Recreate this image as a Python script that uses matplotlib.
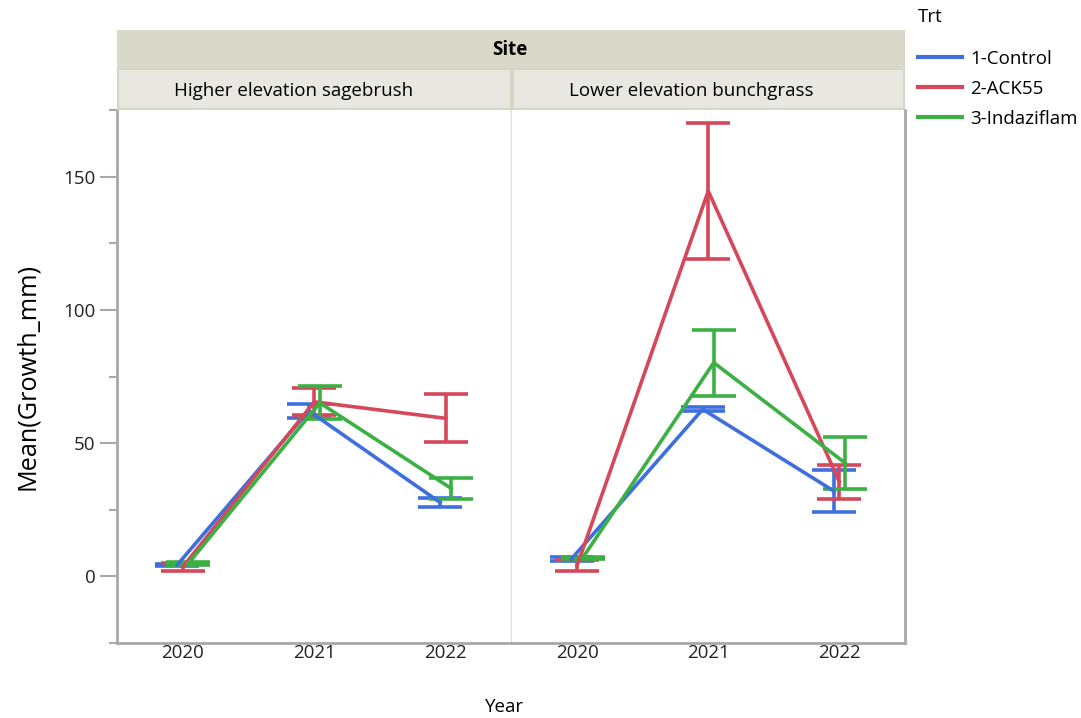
import matplotlib.pyplot as plt
import matplotlib.patches as mpatches
from matplotlib.ticker import MultipleLocator
import numpy as np

plt.rcParams['font.family'] = ['Open Sans', 'DejaVu Sans']

years = [2020, 2021, 2022]
sites = ['Higher elevation sagebrush', 'Lower elevation bunchgrass']
trts = ['1-Control', '2-ACK55', '3-Indaziflam']
colors = ['#3F6FDE', '#D5485A', '#3BB143']

# means and half-width of error bars
high_mean = {'1-Control': [4.3, 62.1, 27.7],
             '2-ACK55': [3.5, 65.5, 59.3],
             '3-Indaziflam': [4.8, 65.1, 33.0]}
high_err = {'1-Control': [0.5, 2.6, 1.7],
            '2-ACK55': [1.5, 5.1, 9.0],
            '3-Indaziflam': [0.6, 6.2, 3.8]}
low_mean = {'1-Control': [6.6, 62.7, 32.0],
            '2-ACK55': [4.0, 144.6, 35.5],
            '3-Indaziflam': [6.9, 80.2, 42.6]}
low_err = {'1-Control': [0.7, 0.8, 7.8],
           '2-ACK55': [2.0, 25.4, 6.4],
           '3-Indaziflam': [0.4, 12.4, 9.8]}

W, H = 1081, 718
fig = plt.figure(figsize=(W / 100, H / 100), dpi=100)

def fx(px):
    return px / W

def fy(py):
    return 1 - py / H

fs = 13.5
top, bottom = 110, 643
panels = [(117, 511.5), (511.5, 905)]
axes = []
for i, (l, r) in enumerate(panels):
    ax = fig.add_axes([fx(l), fy(bottom), fx(r - l), (bottom - top) / H])
    axes.append(ax)

offsets = [-0.042, 0.0, 0.042]
data = [(high_mean, high_err), (low_mean, low_err)]
spine_col = '#A8A8A8'
for i, ax in enumerate(axes):
    means, errs = data[i]
    for j, t in enumerate(trts):
        x = np.array(years) + offsets[j]
        ax.errorbar(x, means[t], yerr=errs[t], color=colors[j], lw=2.6,
                    capsize=16, capthick=2.6, elinewidth=2.6)
    ax.set_xlim(2019.5, 2022.5)
    ax.set_ylim(-25, 175)
    ax.set_xticks(years)
    ax.tick_params(axis='x', length=0, labelsize=fs, pad=1, colors='#222222')
    ax.spines['top'].set_visible(False)
    ax.spines['bottom'].set_color(spine_col)
    ax.spines['bottom'].set_linewidth(2)
    if i == 0:
        ax.spines['left'].set_color(spine_col)
        ax.spines['left'].set_linewidth(2)
        ax.spines['right'].set_color('#DDDDDD')
        ax.spines['right'].set_linewidth(1)
        ax.yaxis.set_major_locator(MultipleLocator(50))
        ax.yaxis.set_minor_locator(MultipleLocator(25))
        ax.tick_params(axis='y', which='major', length=12, width=1.5,
                       color=spine_col, labelsize=fs, labelcolor='#222222')
        ax.tick_params(axis='y', which='minor', length=6, width=1.5,
                       color=spine_col)
        ax.set_ylabel('Mean(Growth_mm)', fontsize=18.2, labelpad=17)
    else:
        ax.spines['left'].set_visible(False)
        ax.spines['right'].set_color(spine_col)
        ax.spines['right'].set_linewidth(2)
        ax.set_yticks([])
        ax.tick_params(axis='y', which='both', length=0)

# strip headers
site_top, site_bot = 30, 68
fig.patches.append(mpatches.Rectangle((fx(117), fy(site_bot)), fx(905 - 117),
                                      (site_bot - site_top) / H,
                                      transform=fig.transFigure,
                                      facecolor='#DAD8C9', edgecolor='none'))
fig.text(fx(510), fy(50), 'Site', ha='center', va='center',
         fontsize=fs, fontweight='bold')
label_x = [294, 691]
for i, (l, r) in enumerate(panels):
    fig.patches.append(mpatches.Rectangle((fx(l + 1), fy(109)), fx(r - l - 2),
                                          40 / H, transform=fig.transFigure,
                                          facecolor='#E8E8E0',
                                          edgecolor='#D6D5C6', lw=1.5))
    fig.text(fx(label_x[i]), fy(91), sites[i], ha='center', va='center',
             fontsize=fs)

fig.text(fx(505), fy(707), 'Year', ha='center', va='center', fontsize=fs)

# legend
fig.text(fx(918), fy(17), 'Trt', ha='left', va='center', fontsize=fs)
handles = [plt.Line2D([], [], color=c, lw=3) for c in colors]
fig.legend(handles, trts, loc='upper left', bbox_to_anchor=(fx(918), fy(50)),
           frameon=False, fontsize=fs, handlelength=2.35, handletextpad=0.43,
           labelspacing=0.63, borderpad=0, borderaxespad=0)

fig.savefig('out.png', dpi=100)
